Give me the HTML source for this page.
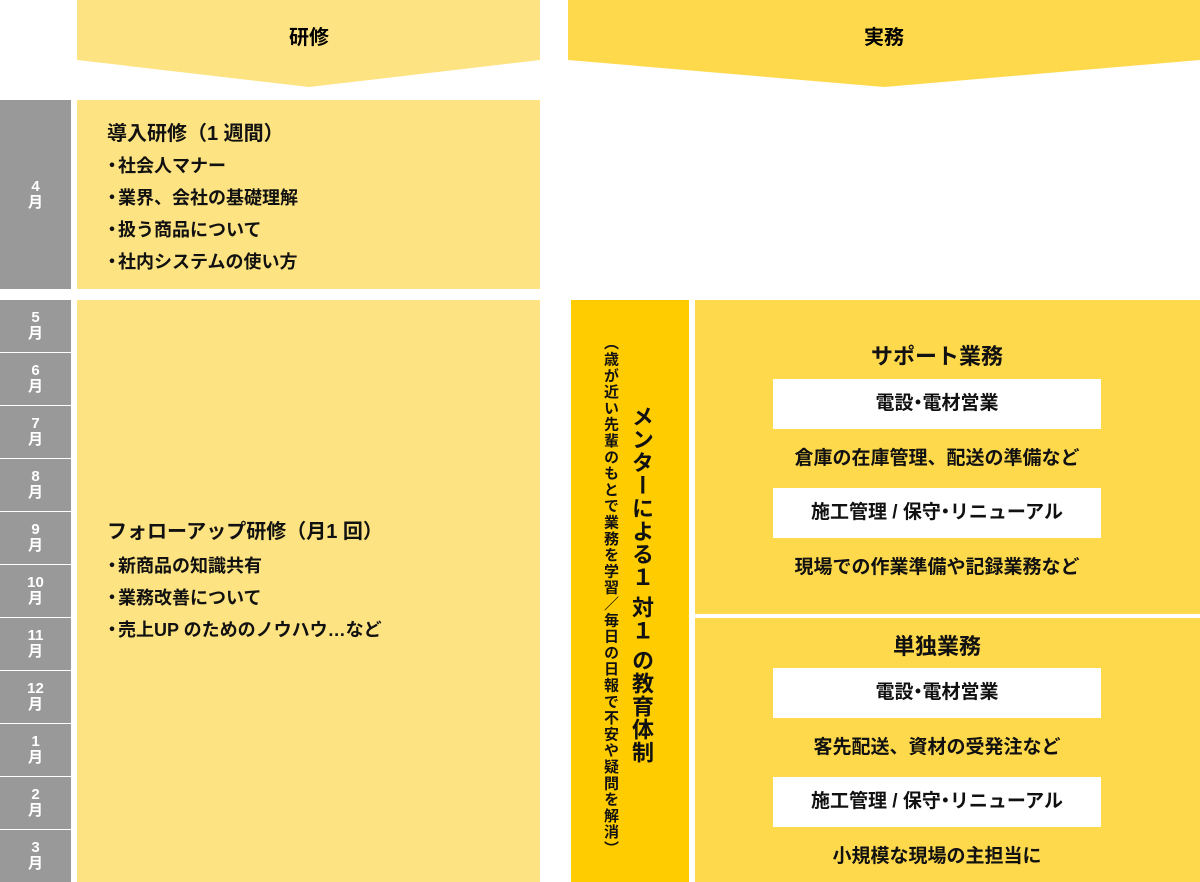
<!DOCTYPE html>
<html><head><meta charset="utf-8"><style>
*{margin:0;padding:0;box-sizing:border-box}
body{width:1200px;height:882px;position:relative;background:#fff;overflow:hidden;font-family:"Liberation Sans","Noto Sans CJK JP",sans-serif;font-weight:bold;color:#111}
.a{position:absolute}
.m{position:absolute;left:0;width:71px;background:#999;color:#fff;font-size:15px;line-height:16px;text-align:center;display:flex;flex-direction:column;justify-content:center;align-items:center}
.l{background:#fde381}
.r{background:#ffd94c}
.w{position:absolute;left:773px;width:328px;height:50px;background:#fff;font-size:19px;text-align:center;line-height:50px}
.c{position:absolute;left:695px;width:484px;text-align:center;font-size:19px}
.t{font-size:18px;line-height:32px}
.b{margin-left:-4px;margin-right:-3px}
.d{margin:0 -5px}
</style></head><body>
<svg class="a" style="left:0;top:0" width="1200" height="90">
<polygon points="77,0 540,0 540,60 309,87 77,60" fill="#fde381"/>
<polygon points="568,0 1200,0 1200,60 884,87 568,60" fill="#ffd94c"/>
<text x="309" y="44" font-size="20" font-weight="bold" text-anchor="middle" font-family="Liberation Sans,Noto Sans CJK JP,sans-serif">研修</text>
<text x="884" y="44" font-size="20" font-weight="bold" text-anchor="middle" font-family="Liberation Sans,Noto Sans CJK JP,sans-serif">実務</text>
</svg>
<div class="m" style="top:100px;height:189px">4<br>月</div>
<div class="m" style="top:300px;height:52px">5<br>月</div>
<div class="m" style="top:353px;height:52px">6<br>月</div>
<div class="m" style="top:406px;height:52px">7<br>月</div>
<div class="m" style="top:459px;height:52px">8<br>月</div>
<div class="m" style="top:512px;height:52px">9<br>月</div>
<div class="m" style="top:565px;height:52px">10<br>月</div>
<div class="m" style="top:618px;height:52px">11<br>月</div>
<div class="m" style="top:671px;height:52px">12<br>月</div>
<div class="m" style="top:724px;height:52px">1<br>月</div>
<div class="m" style="top:777px;height:52px">2<br>月</div>
<div class="m" style="top:830px;height:52px">3<br>月</div>
<div class="a l" style="left:77px;top:100px;width:463px;height:189px"></div>
<div class="a" style="left:107px;top:118px">
<div style="font-size:20px;line-height:32px">導入研修（1 週間）</div>
<div class="t"><span class="b">・</span>社会人マナー</div><div class="t"><span class="b">・</span>業界、会社の基礎理解</div><div class="t"><span class="b">・</span>扱う商品について</div><div class="t"><span class="b">・</span>社内システムの使い方</div></div>
<div class="a l" style="left:77px;top:300px;width:463px;height:582px"></div>
<div class="a" style="left:107px;top:514px">
<div style="font-size:20px;line-height:36px">フォローアップ研修（月1 回）</div>
<div class="t"><span class="b">・</span>新商品の知識共有</div><div class="t"><span class="b">・</span>業務改善について</div><div class="t"><span class="b">・</span>売上UP のためのノウハウ…など</div></div>
<div class="a" style="left:571px;top:300px;width:118px;height:582px;background:#ffcc00"></div>
<div class="a" style="left:628px;top:405px;writing-mode:vertical-rl;font-size:22px;line-height:26px;letter-spacing:1px">メンターによる１ 対１ の教育体制</div>
<div class="a" style="left:601px;top:335px;writing-mode:vertical-rl;font-size:15px;line-height:18px;letter-spacing:1.3px">（歳が近い先輩のもとで業務を学習／毎日の日報で不安や疑問を解消）</div>
<div class="a r" style="left:695px;top:300px;width:505px;height:314px"></div>
<div class="a r" style="left:695px;top:618px;width:505px;height:264px"></div>
<div class="c" style="top:339px;font-size:22px">サポート業務</div>
<div class="w" style="top:379px">電設<span class="d">・</span>電材営業</div>
<div class="c" style="top:443px">倉庫の在庫管理、配送の準備など</div>
<div class="w" style="top:488px">施工管理 / 保守<span class="d">・</span>リニューアル</div>
<div class="c" style="top:552px">現場での作業準備や記録業務など</div>
<div class="c" style="top:629px;font-size:22px">単独業務</div>
<div class="w" style="top:668px">電設<span class="d">・</span>電材営業</div>
<div class="c" style="top:732px">客先配送、資材の受発注など</div>
<div class="w" style="top:777px">施工管理 / 保守<span class="d">・</span>リニューアル</div>
<div class="c" style="top:841px">小規模な現場の主担当に</div>
</body></html>
